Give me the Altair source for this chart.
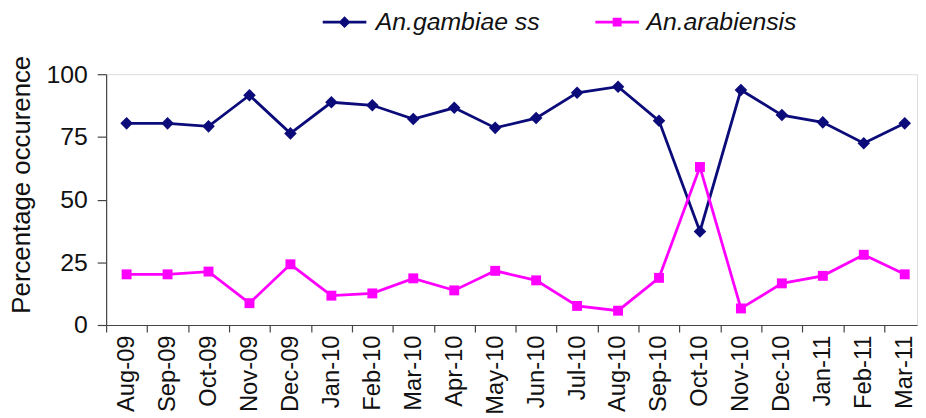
import json
import altair as alt
import pandas as pd

months = ["Aug-09", "Sep-09", "Oct-09", "Nov-09", "Dec-09", "Jan-10", "Feb-10",
          "Mar-10", "Apr-10", "May-10", "Jun-10", "Jul-10", "Aug-10", "Sep-10",
          "Oct-10", "Nov-10", "Dec-10", "Jan-11", "Feb-11", "Mar-11"]
gambiae = [80.4, 80.4, 79.2, 91.6, 76.4, 88.8, 87.6, 82.1, 86.6, 78.6,
           82.5, 92.6, 95.0, 81.4, 37.3, 93.7, 83.7, 80.8, 72.5, 80.4]
arabiensis = [20.2, 20.2, 21.3, 8.7, 24.2, 11.7, 12.6, 18.6, 13.8, 21.6,
              17.8, 7.6, 5.7, 18.8, 63.0, 6.6, 16.6, 19.6, 28.0, 20.2]
series = ["An.gambiae ss", "An.arabiensis"]
colors = ["#0B0B7A", "#FF00FF"]
y_ticks = [0, 25, 50, 75, 100]

rows = []
for i, m in enumerate(months):
    rows.append({"idx": i, "month": m, "species": series[0], "value": gambiae[i]})
    rows.append({"idx": i, "month": m, "species": series[1], "value": arabiensis[i]})
df = pd.DataFrame(rows)

n = len(months)
x_vals = []
for i in range(n):
    x_vals.append(i - 0.5)
    x_vals.append(i)
label_expr = "datum.value % 1 === 0 ? " + json.dumps(months).replace('"', "'") + "[datum.value] : ''"

x_enc = alt.X(
    "idx:Q",
    scale=alt.Scale(domain=[-0.5, n - 0.7], nice=False, zero=False),
    axis=alt.Axis(
        title=None, values=x_vals, labelExpr=label_expr, labelAngle=270,
        labelFontSize=24, labelFont="Liberation Sans", labelColor="#111",
        labelOverlap=False, labelFlush=False, labelPadding=3,
        tickSize=7, tickColor="#444", tickWidth=1.2,
        tickOpacity={"condition": {"test": "datum.value % 1 !== 0", "value": 1}, "value": 0},
        domainColor="#444", domainWidth=1.2, grid=False,
    ),
)
y_enc = alt.Y(
    "value:Q",
    scale=alt.Scale(domain=[0, 100], nice=False),
    axis=alt.Axis(
        title="Percentage occurence", values=y_ticks, format="d",
        labelFontSize=25, labelFont="Liberation Sans", labelColor="#111", labelPadding=10,
        titleFontSize=26, titleFont="Liberation Sans", titleFontWeight="normal",
        titleColor="#111", titlePadding=12, titleY=111,
        tickSize=9, tickColor="#444", tickWidth=1.2,
        domainColor="#444", domainWidth=1.2, grid=False,
    ),
)

# legend glyphs: a short line segment with the series marker on it
sym_paths = ["M-2.2,-0.13H2.2V0.13H-2.2ZM0,-0.6L0.6,0L0,0.6L-0.6,0Z",
             "M-2.2,-0.13H2.2V0.13H-2.2ZM-0.45,-0.45H0.45V0.45H-0.45Z"]
leg_x = [228, 503]
leg_off = [19, 17]


def legend_layer(k):
    return alt.Chart(df).transform_filter("false").mark_point(
        filled=True, color=colors[k], opacity=1, size=400,
    ).encode(
        x=x_enc, y=y_enc,
        shape=alt.Shape(
            "species:N",
            scale=alt.Scale(domain=[series[k]], range=[sym_paths[k]]),
            legend=alt.Legend(
                title=None, orient="none", direction="horizontal",
                legendX=leg_x[k], legendY=-65,
                labelFontSize=25, labelFontStyle="italic", labelFont="Liberation Sans",
                labelColor="#111", labelOffset=leg_off[k], labelLimit=400,
                symbolSize=400, symbolOpacity=1,
                symbolFillColor=colors[k],
            ),
        ),
    )


lines = alt.Chart(df).mark_line(strokeWidth=2.8).encode(
    x=x_enc, y=y_enc,
    color=alt.Color("species:N", scale=alt.Scale(domain=series, range=colors), legend=None),
)

pts_g = alt.Chart(df).transform_filter(
    alt.datum.species == series[0]
).mark_point(shape="diamond", filled=True, size=160, color=colors[0], opacity=1).encode(
    x=x_enc, y=y_enc
)
pts_a = alt.Chart(df).transform_filter(
    alt.datum.species == series[1]
).mark_point(shape="square", filled=True, size=100, color=colors[1], opacity=1).encode(
    x=x_enc, y=y_enc
)

chart = alt.layer(lines, pts_g, pts_a, legend_layer(0), legend_layer(1)).resolve_scale(
    shape="independent"
).resolve_legend(shape="independent").properties(
    width=818, height=253,
    padding={"left": 99, "top": 65, "right": 1, "bottom": 88},
    autosize="none",
).configure_view(stroke=None).configure(background="white")

chart.save("out.html", embed_options={"renderer": "svg", "actions": False})
